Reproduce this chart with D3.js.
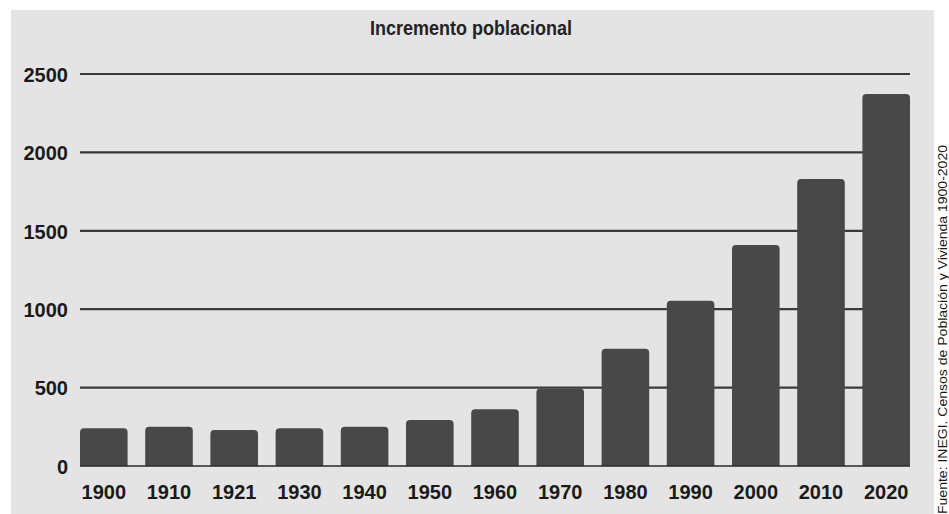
<!DOCTYPE html>
<html><head><meta charset="utf-8">
<script src="https://cdn.jsdelivr.net/npm/d3@7"></script>
<style>
html,body{margin:0;padding:0;background:#fff;}
svg{display:block;}
</style></head>
<body>
<svg id="c" width="949" height="514"></svg>
<script>
const categories = ["1900","1910","1921","1930","1940","1950","1960","1970","1980","1990","2000","2010","2020"];
const values = [240, 251, 230, 240, 251, 293, 362, 495, 748, 1054, 1409, 1830, 2372];
const yTicks = [0, 500, 1000, 1500, 2000, 2500];
const titleText = "Incremento poblacional";
const sourceText = "Fuente: INEGI. Censos de Población y Vivienda 1900-2020";

(function () {
const svg = d3.select("#c");
const mLeft = 80, mRight = 910, mTop = 74, mBottom = 466;

// background panel
svg.append("rect").attr("x", 11).attr("y", 10).attr("width", 923).attr("height", 504).attr("fill", "#e4e4e4");

const x = d3.scaleBand().domain(categories).range([mLeft, mRight]).paddingInner(0.27).paddingOuter(0);
const y = d3.scaleLinear().domain([0, 2500]).range([mBottom, mTop]);

// gridlines
svg.append("g").selectAll("line").data(yTicks.filter(d => d > 0)).join("line")
  .attr("x1", mLeft).attr("x2", mRight)
  .attr("y1", d => y(d)).attr("y2", d => y(d))
  .attr("stroke", "#3a3a3a").attr("stroke-width", 2.2);

// bars with rounded top corners
const r = 4;
svg.append("g").selectAll("path").data(values).join("path")
  .attr("fill", "#484848")
  .attr("d", (d, i) => {
    const x0 = x(categories[i]), w = x.bandwidth(), y0 = y(d), y1 = y(0);
    return `M${x0},${y1} L${x0},${y0 + r} Q${x0},${y0} ${x0 + r},${y0} L${x0 + w - r},${y0} Q${x0 + w},${y0} ${x0 + w},${y0 + r} L${x0 + w},${y1} Z`;
  });

// baseline
svg.append("line").attr("x1", mLeft).attr("x2", mRight).attr("y1", y(0)).attr("y2", y(0))
  .attr("stroke", "#2a2a2a").attr("stroke-width", 1.6);

// y axis labels
const yAxis = d3.axisLeft(y).tickValues(yTicks).tickFormat(d3.format("d")).tickSize(0).tickPadding(0);
const gy = svg.append("g").attr("transform", `translate(${mLeft - 12},0)`).call(yAxis);
gy.select(".domain").remove();
gy.selectAll("text").attr("font-family", "'Liberation Sans', Arial, sans-serif")
  .attr("font-weight", "bold").attr("font-size", 20).attr("fill", "#1a1a1a").attr("dy", "0.36em");

// x axis labels
const xAxis = d3.axisBottom(x).tickSize(0).tickPadding(0);
const gx = svg.append("g").attr("transform", `translate(0,${mBottom})`).call(xAxis);
gx.select(".domain").remove();
gx.selectAll("text").attr("font-family", "'Liberation Sans', Arial, sans-serif")
  .attr("font-weight", "bold").attr("font-size", 20).attr("fill", "#1a1a1a")
  .attr("dy", 0).attr("y", 33);

// title
svg.append("text").attr("x", 471).attr("y", 35).attr("text-anchor", "middle")
  .attr("font-family", "'Liberation Sans Narrow', 'Liberation Sans', sans-serif")
  .attr("font-weight", "bold").attr("font-size", 21).attr("fill", "#222")
  .attr("textLength", 202).attr("lengthAdjust", "spacingAndGlyphs")
  .text(titleText);

// vertical source
svg.append("text").attr("transform", "translate(947,514) rotate(-90)")
  .attr("font-family", "'Liberation Sans Narrow', 'Liberation Sans', sans-serif")
  .attr("font-size", 13).attr("fill", "#1a1a1a")
  .attr("textLength", 369).attr("lengthAdjust", "spacingAndGlyphs")
  .text(sourceText);
})();
</script>
</body></html>
